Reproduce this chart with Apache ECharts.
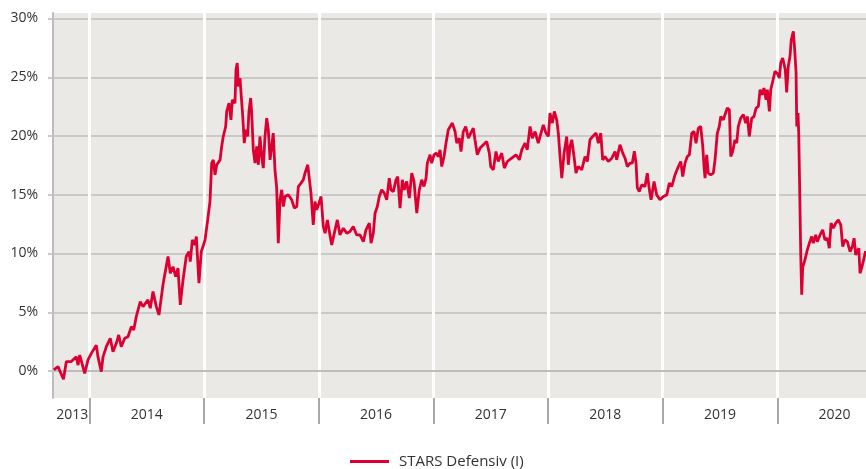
<!DOCTYPE html>
<html>
<head>
<meta charset="utf-8">
<script src="https://cdn.jsdelivr.net/npm/echarts@6/dist/echarts.min.js"></script>
<style>
  html, body { margin: 0; padding: 0; background: #fff; }
  #chart { width: 866px; height: 469px; }
</style>
</head>
<body>
<div id="chart"></div>
<script>
// year labels on the x axis (2013 and 2020 are partial years)
const yearLabels = ['2013', '2014', '2015', '2016', '2017', '2018', '2019', '2020'];
const yTicks = [0, 5, 10, 15, 20, 25, 30];
const seriesName = 'STARS Defensiv (I)';

// time as decimal years, performance in %
const years2013_14 = [
  2013.689, 2013.725, 2013.773, 2013.798, 2013.841, 2013.885, 2013.900, 2013.915, 2013.958, 2013.987,
  2014.016, 2014.059, 2014.074, 2014.103, 2014.118, 2014.147, 2014.181, 2014.205, 2014.234, 2014.255,
  2014.277, 2014.307, 2014.336, 2014.365, 2014.386, 2014.408, 2014.443, 2014.467, 2014.510, 2014.530,
  2014.554, 2014.583, 2014.606, 2014.641, 2014.656, 2014.685, 2014.705, 2014.728, 2014.752, 2014.772,
  2014.792, 2014.816, 2014.844, 2014.868, 2014.879, 2014.897, 2014.918, 2014.932, 2014.955, 2014.975,
  2014.990
];
const values2013_14 = [
  0.1, 0.37, -0.7, 0.8, 0.8, 1.2, 0.5, 1.36, -0.2, 0.94,
  1.5, 2.2, 1.2, -0.05, 1.2, 2.07, 2.78, 1.64, 2.36, 3.07,
  2.07, 2.78, 2.92, 3.77, 3.49, 4.63, 5.9, 5.48, 6.05, 5.34,
  6.76, 5.48, 4.77, 7.33, 8.18, 9.74, 8.32, 8.88, 8.03, 8.75,
  5.62, 7.75, 9.74, 10.16, 9.31, 11.16, 10.73, 11.44, 7.47, 10.16,
  10.59
];

const years2015 = [
  2015.008, 2015.031, 2015.051, 2015.066, 2015.080, 2015.095, 2015.110, 2015.139, 2015.153, 2015.167,
  2015.188, 2015.197, 2015.217, 2015.234, 2015.246, 2015.269, 2015.278, 2015.289, 2015.298, 2015.313,
  2015.322, 2015.337, 2015.350, 2015.365, 2015.380, 2015.391, 2015.406, 2015.415, 2015.429, 2015.444,
  2015.459, 2015.473, 2015.487, 2015.502, 2015.516, 2015.531, 2015.546, 2015.560, 2015.575, 2015.590,
  2015.603, 2015.618, 2015.633, 2015.647, 2015.662, 2015.677, 2015.691, 2015.706, 2015.734, 2015.764,
  2015.787, 2015.808, 2015.822, 2015.845, 2015.865, 2015.880, 2015.904, 2015.918, 2015.932, 2015.952,
  2015.967, 2015.982
];
const values2015 = [
  11.16, 12.86, 14.42, 17.69, 17.97, 16.7, 17.55, 17.97, 19.11, 19.96,
  20.81, 22.09, 22.8, 21.38, 23.08, 22.8, 25.64, 26.21, 24.22, 24.93,
  23.65, 21.66, 19.39, 20.53, 19.96, 22.09, 23.23, 21.95, 18.82, 17.69,
  19.11, 17.55, 19.96, 18.25, 17.27, 19.96, 21.52, 20.53, 17.97, 19.11,
  20.25, 17.12, 15.56, 10.88, 14.57, 15.42, 14.0, 14.85, 15.0, 14.57,
  13.86, 14.0, 15.7, 15.99, 16.27, 16.84, 17.55, 17.69, 15.14, 12.44,
  14.42, 13.71
];

const years2016 = [
  2016.002, 2016.020, 2016.040, 2016.055, 2016.075, 2016.113, 2016.142, 2016.162, 2016.185, 2016.214,
  2016.244, 2016.273, 2016.301, 2016.331, 2016.360, 2016.389, 2016.412, 2016.441, 2016.456, 2016.476,
  2016.491, 2016.511, 2016.528, 2016.549, 2016.572, 2016.593, 2016.615, 2016.630, 2016.650, 2016.674,
  2016.689, 2016.709, 2016.729, 2016.746, 2016.767, 2016.790, 2016.811, 2016.831, 2016.855, 2016.877,
  2016.898, 2016.918, 2016.936, 2016.947, 2016.971, 2016.985
];
const values2016 = [
  14.28, 14.85, 12.3, 11.73, 12.86, 10.73, 12.01, 12.86, 11.58, 12.15,
  11.73, 11.87, 12.29, 11.58, 11.58, 11.01, 12.01, 12.58, 10.88, 11.73,
  13.43, 14.0, 14.85, 15.42, 15.14, 14.57, 16.41, 15.42, 15.27, 16.27,
  16.55, 13.86, 16.27, 15.42, 16.13, 14.71, 16.84, 16.13, 13.43, 15.42,
  16.27, 15.7, 16.41, 17.69, 18.4, 17.69
];

const years2017 = [
  2017.005, 2017.023, 2017.043, 2017.058, 2017.073, 2017.093, 2017.110, 2017.130, 2017.145, 2017.165,
  2017.189, 2017.204, 2017.226, 2017.241, 2017.261, 2017.282, 2017.305, 2017.326, 2017.348, 2017.363,
  2017.383, 2017.407, 2017.436, 2017.465, 2017.488, 2017.500, 2017.523, 2017.546, 2017.566, 2017.596,
  2017.619, 2017.645, 2017.683, 2017.721, 2017.750, 2017.771, 2017.799, 2017.819, 2017.843, 2017.863,
  2017.887, 2017.915, 2017.939, 2017.959, 2017.982
];
const values2017 = [
  18.4, 18.54, 18.25, 18.82, 17.4, 18.25, 19.39, 20.53, 20.67, 21.1,
  20.38, 19.39, 19.82, 18.68, 20.38, 20.81, 19.82, 20.25, 20.67, 19.68,
  18.4, 18.97, 19.25, 19.53, 18.54, 17.4, 17.12, 18.68, 17.83, 18.54,
  17.27, 17.83, 18.11, 18.4, 17.97, 18.82, 19.39, 18.82, 20.81, 19.82,
  20.38, 19.39, 20.25, 20.95, 20.25
];

const years2018 = [
  2018.003, 2018.017, 2018.038, 2018.055, 2018.076, 2018.090, 2018.105, 2018.120, 2018.140, 2018.163,
  2018.177, 2018.192, 2018.207, 2018.227, 2018.244, 2018.264, 2018.294, 2018.323, 2018.343, 2018.366,
  2018.390, 2018.419, 2018.439, 2018.460, 2018.477, 2018.497, 2018.526, 2018.556, 2018.585, 2018.599,
  2018.628, 2018.652, 2018.672, 2018.692, 2018.715, 2018.735, 2018.753, 2018.768, 2018.779, 2018.796,
  2018.817, 2018.846, 2018.866, 2018.884, 2018.899, 2018.925, 2018.948, 2018.977
];
const values2018 = [
  19.96, 21.95, 21.1, 22.09, 21.38, 20.25, 18.25, 16.41, 18.54, 19.96,
  17.55, 19.11, 19.68, 18.25, 16.84, 17.4, 17.12, 18.25, 17.83, 19.68,
  19.96, 20.25, 19.39, 20.25, 17.97, 18.25, 17.83, 18.11, 18.68, 17.97,
  19.25, 18.54, 18.11, 17.4, 17.69, 17.69, 18.7, 17.69, 15.6, 15.27,
  15.84, 15.7, 16.84, 15.42, 14.57, 16.13, 14.99, 14.57
];

const years2019 = [
  2019.006, 2019.036, 2019.058, 2019.079, 2019.108, 2019.137, 2019.158, 2019.175, 2019.195, 2019.215,
  2019.233, 2019.254, 2019.274, 2019.291, 2019.311, 2019.332, 2019.350, 2019.361, 2019.370, 2019.384,
  2019.398, 2019.419, 2019.442, 2019.457, 2019.477, 2019.494, 2019.507, 2019.529, 2019.544, 2019.564,
  2019.582, 2019.594, 2019.611, 2019.631, 2019.646, 2019.660, 2019.681, 2019.704, 2019.725, 2019.739,
  2019.756, 2019.777, 2019.797, 2019.815, 2019.835, 2019.850, 2019.867, 2019.884, 2019.902, 2019.913,
  2019.931, 2019.943, 2019.960, 2019.980
];
const values2019 = [
  14.85, 14.99, 15.99, 15.7, 16.7, 17.4, 17.83, 16.55, 17.69, 18.25,
  18.4, 20.25, 20.38, 19.39, 20.67, 20.81, 19.11, 17.4, 16.41, 18.4,
  16.84, 16.7, 16.84, 17.97, 20.25, 20.81, 21.66, 21.38, 21.81, 22.38,
  22.23, 18.25, 18.68, 19.68, 19.39, 20.81, 21.52, 21.81, 21.1, 21.66,
  19.96, 21.52, 21.66, 22.38, 22.52, 23.94, 23.51, 24.08, 23.08, 23.94,
  22.09, 23.94, 24.64, 25.5
];

const years2020 = [
  2020.002, 2020.018, 2020.030, 2020.047, 2020.059, 2020.070, 2020.082, 2020.096, 2020.111, 2020.122,
  2020.140, 2020.152, 2020.164, 2020.170, 2020.181, 2020.187, 2020.196, 2020.205, 2020.213, 2020.222,
  2020.233, 2020.245, 2020.262, 2020.280, 2020.300, 2020.314, 2020.335, 2020.349, 2020.373, 2020.396,
  2020.416, 2020.437, 2020.454, 2020.469, 2020.489, 2020.510, 2020.533, 2020.554, 2020.571, 2020.591,
  2020.611, 2020.635, 2020.655, 2020.670, 2020.684, 2020.698, 2020.711, 2020.722, 2020.739, 2020.757,
  2020.770
];
const values2020 = [
  25.3, 24.93, 26.21, 26.64, 26.78, 25.64, 23.7, 25.92, 26.78, 28.19,
  28.9, 27.34, 25.36, 20.81, 21.95, 20.25, 15.14, 9.74, 6.5, 8.88,
  9.17, 9.6, 10.31, 10.88, 11.44, 10.88, 11.58, 11.01, 11.58, 12.01,
  11.16, 11.3, 10.45, 12.58, 12.15, 12.58, 12.86, 12.44, 10.59, 11.16,
  11.01, 10.16, 10.59, 11.3, 9.88, 9.74, 10.45, 8.32, 8.88, 9.6,
  10.2
];

const years = [].concat(years2013_14, years2015, years2016, years2017, years2018, years2019, years2020);
const values = [].concat(values2013_14, values2015, values2016, values2017, values2018, values2019, values2020);

const FONT = 'Open Sans';
const TEXT = '#333333';
const GRID_GREY = '#c9c9c9';
const AXIS_GREY = '#bdbdbd';
const RED = '#dc0032';

const chart = echarts.init(document.getElementById('chart'));

chart.setOption({
  animation: false,
  textStyle: { fontFamily: FONT },
  legend: {
    data: [seriesName],
    left: 350,
    top: 454,
    padding: 0,
    icon: 'rect',
    itemWidth: 39,
    itemHeight: 3,
    textStyle: { fontFamily: FONT, fontSize: 15, color: TEXT, padding: [0, 0, 0, 5] }
  },
  grid: [
    // plot area with the data
    { left: 53, top: 13, width: 813, height: 385, show: true, backgroundColor: '#ebe9e6', borderWidth: 0, outerBoundsMode: 'none' },
    // percentage grid lines (0% .. 30%)
    { left: 53, top: 18.5, width: 813, height: 352.5, outerBoundsMode: 'none' },
    // year bands, 2013-01-01 .. 2021-01-01
    { left: -25.13, top: 13, width: 917.04, height: 385, outerBoundsMode: 'none' }
  ],
  xAxis: [
    {
      gridIndex: 0, type: 'value', min: 2013.6816, max: 2020.774,
      axisLine: { show: true, lineStyle: { color: AXIS_GREY, width: 2 } },
      axisTick: { show: false }, axisLabel: { show: false }, splitLine: { show: false }
    },
    { gridIndex: 1, type: 'value', min: 0, max: 1, show: false },
    {
      gridIndex: 2, type: 'category', data: yearLabels, boundaryGap: true,
      axisLine: { show: false },
      axisTick: { show: true, interval: 0, length: 26, lineStyle: { color: '#a8a8a8', width: 2 } },
      splitLine: { show: true, interval: 0, lineStyle: { color: '#ffffff', width: 3 } },
      axisLabel: {
        interval: 0, margin: 10, fontFamily: FONT, fontSize: 14, color: TEXT,
        formatter: function (v) { return v === yearLabels[0] ? '{first|' + v + '}' : v; },
        rich: { first: { padding: [0, 0, 0, 80], fontFamily: FONT, fontSize: 14, color: TEXT } }
      }
    }
  ],
  yAxis: [
    {
      gridIndex: 0, type: 'value', min: -2.298, max: 30.468,
      axisLine: { show: true, lineStyle: { color: AXIS_GREY, width: 2 } },
      axisTick: { show: false }, axisLabel: { show: false }, splitLine: { show: false }
    },
    {
      gridIndex: 1, type: 'value', min: yTicks[0], max: yTicks[yTicks.length - 1], interval: 5,
      axisLine: { show: false },
      axisTick: { show: true, length: 5, lineStyle: { color: GRID_GREY, width: 2 } },
      splitLine: { show: true, lineStyle: { color: GRID_GREY, width: 2 } },
      axisLabel: { margin: 15, fontFamily: FONT, fontSize: 14, color: TEXT, formatter: '{value}%' }
    },
    { gridIndex: 2, type: 'value', min: 0, max: 1, show: false }
  ],
  series: [
    {
      name: seriesName,
      type: 'line',
      xAxisIndex: 0,
      yAxisIndex: 0,
      data: years.map(function (y, i) { return [y, values[i]]; }),
      showSymbol: false,
      symbol: 'none',
      z: 10,
      lineStyle: { color: RED, width: 2.8 },
      itemStyle: { color: RED }
    }
  ]
});
</script>
</body>
</html>
